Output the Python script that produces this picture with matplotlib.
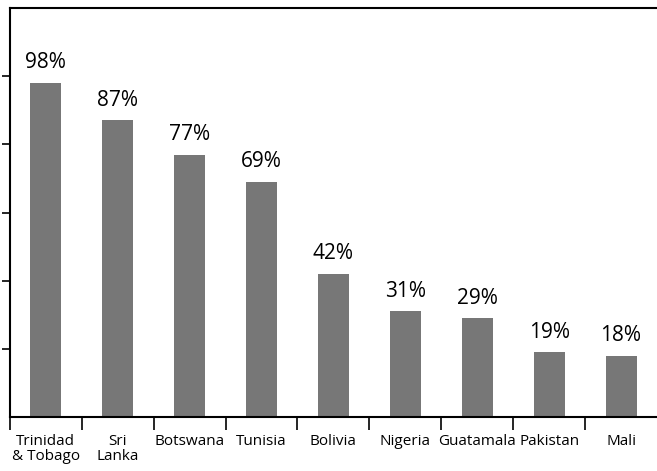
import matplotlib.pyplot as plt

countries = ['Trinidad\n& Tobago', 'Sri\nLanka', 'Botswana', 'Tunisia', 'Bolivia',
             'Nigeria', 'Guatamala', 'Pakistan', 'Mali']
values = [98, 87, 77, 69, 42, 31, 29, 19, 18]
labels = ['98%', '87%', '77%', '69%', '42%', '31%', '29%', '19%', '18%']

plt.rcParams['font.family'] = ['Open Sans', 'DejaVu Sans']

fig = plt.figure(figsize=(6.57, 4.71), dpi=100)
ax = fig.add_axes([0.015, 0.1146, 0.985, 0.8684])

x = range(len(values))
ax.bar(x, values, width=0.43, color='#777777')
for i, v in enumerate(values):
    ax.text(i, v + 2.8, labels[i], ha='center', va='bottom', fontsize=15)

ax.set_xlim(-0.5, len(values) - 0.5)
ax.set_ylim(0, 120)
ax.set_yticks([20, 40, 60, 80, 100])
ax.set_yticklabels([])
ax.tick_params(axis='y', direction='out', length=6, width=1.2)

ax.set_xticks([i - 0.5 for i in range(len(values))])
ax.set_xticklabels([])
ax.set_xticks(list(x), minor=True)
ax.set_xticklabels(countries, minor=True, fontsize=11, linespacing=1.05)
ax.tick_params(axis='x', which='major', direction='out', length=9, width=1.2)
ax.tick_params(axis='x', which='minor', length=0, pad=12)

ax.spines['right'].set_visible(False)
for s in ['left', 'bottom', 'top']:
    ax.spines[s].set_linewidth(1.5)

plt.savefig('out.png')
